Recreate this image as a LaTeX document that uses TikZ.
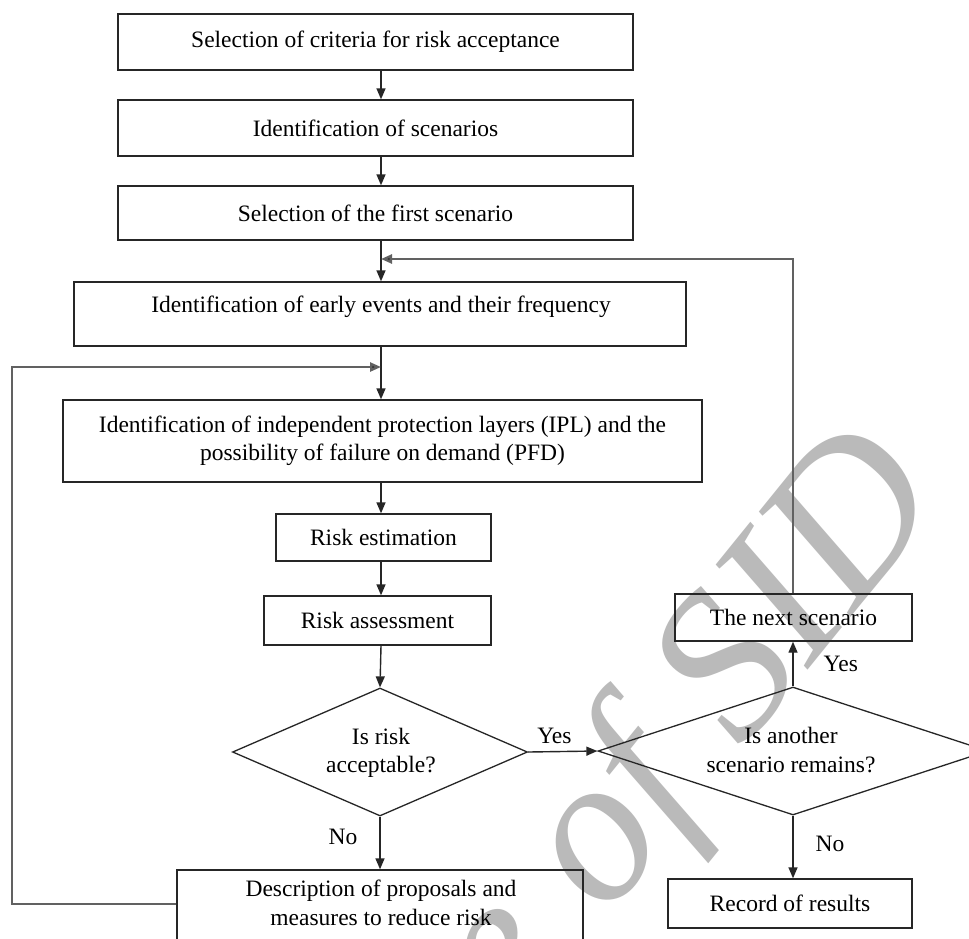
\documentclass[tikz,border=0pt]{standalone}
\usepackage{fontspec}
\setmainfont{Liberation Serif}
\usetikzlibrary{arrows.meta,shapes.geometric}
\begin{document}
\begin{tikzpicture}[x=1pt,y=-1pt,
  box/.style={draw=black!85, line width=1.4pt, rectangle, inner sep=0pt, align=center, font=\fontsize{23.5}{28}\selectfont},
  txt/.style={font=\fontsize{23.5}{28.5}\selectfont, align=center, inner sep=0pt},
  dia/.style={draw=black!85, line width=1.3pt, diamond, inner sep=0pt},
  arr/.style={line width=1.4pt, draw=black!85, -{Triangle[length=11pt,width=9pt]}},
  loopline/.style={line width=2.4pt, draw=black!62, -{Triangle[length=11pt,width=9pt,fill=black!85]}},
  wmark/.style={font=\fontsize{210}{210}\selectfont\itshape, text=black!27, inner sep=0pt}
]
\useasboundingbox (0,0) rectangle (969,938);
\clip (0,0) rectangle (969,938);
\fill[white] (0,0) rectangle (969,938);
% watermark
\node[wmark, rotate=51, anchor=base east] (wm) at (948,497) {Archive of SID};
% axis
\coordinate (ax) at (381,0);
\coordinate (rx) at (793,0);
\coordinate (lx) at (12,0);
% boxes
\node[box, minimum width=515pt, minimum height=56pt] (b1) at (375.5,42) {Selection of criteria for risk acceptance};
\node[box, minimum width=515pt, minimum height=56pt] (b2) at (375.5,128) {Identification of scenarios};
\node[box, minimum width=515pt, minimum height=54pt] (b3) at (375.5,213) {Selection of the first scenario};
\node[box, minimum width=612pt, minimum height=64pt] (b4) at (380,314) {};
\node[txt] (t4) at (381,307) {Identification of early events and their frequency};
\node[box, minimum width=639pt, minimum height=82pt] (b5) at (382.5,441) {Identification of independent protection layers (IPL) and the\\possibility of failure on demand (PFD)};
\node[box, minimum width=215pt, minimum height=47pt] (est) at (383.5,537.5) {Risk estimation};
\node[box, minimum width=227pt, minimum height=49pt] (ass) at (377.5,620.5) {Risk assessment};
\node[dia, minimum width=295pt, minimum height=128pt] (d1) at (380,752) {};
\node[txt] (td1) at (381,753) {Is risk\\acceptable?};
\node[dia, minimum width=390pt, minimum height=128pt] (d2) at (793,751) {};
\node[txt] (td2) at (791,750) {Is another\\scenario remains?};
\node[box, minimum width=237pt, minimum height=47pt] (nx) at (793.5,617.5) {The next scenario};
\node[box, minimum width=244pt, minimum height=49pt] (rec) at (790,903.5) {Record of results};
\node[box, minimum width=406pt, minimum height=96pt] (desc) at (380,918) {};
\node[txt] (tdesc) at (381,903) {Description of proposals and\\measures to reduce risk};
% connectors
\draw[arr] (b1.south -| ax) -- (b2.north -| ax);
\draw[arr] (b2.south -| ax) -- (b3.north -| ax);
\draw[arr] (b3.south -| ax) -- (b4.north -| ax);
\draw[arr] (b4.south -| ax) -- (b5.north -| ax);
\draw[arr] (b5.south -| ax) -- (est.north -| ax);
\draw[arr] (est.south -| ax) -- (ass.north -| ax);
\draw[arr] (ass.south -| ax) -- (d1.north);
\draw[arr] (d1.south) -- node[txt, pos=0.38, left=22pt] (no1) {No} (desc.north -| d1.south);
\draw[arr] (d1.east) -- node[txt, pos=0.38, above=7pt] (yes1) {Yes} (d2.west);
\draw[arr] (d2.north) -- node[txt, pos=0.5, right=30pt] (yes2) {Yes} (nx.south -| d2.north);
\draw[arr] (d2.south) -- node[txt, pos=0.45, right=22pt] (no2) {No} (rec.north -| d2.south);
\coordinate (rtop) at (793,259);
\coordinate (ltop) at (12,367);
\draw[loopline] (nx.north -| rx) -- (rtop) -- (rtop -| ax);
\draw[loopline] (desc.west |- 0,904) -- (lx |- 0,904) -- (ltop) -- (ltop -| ax);
\end{tikzpicture}
\end{document}
